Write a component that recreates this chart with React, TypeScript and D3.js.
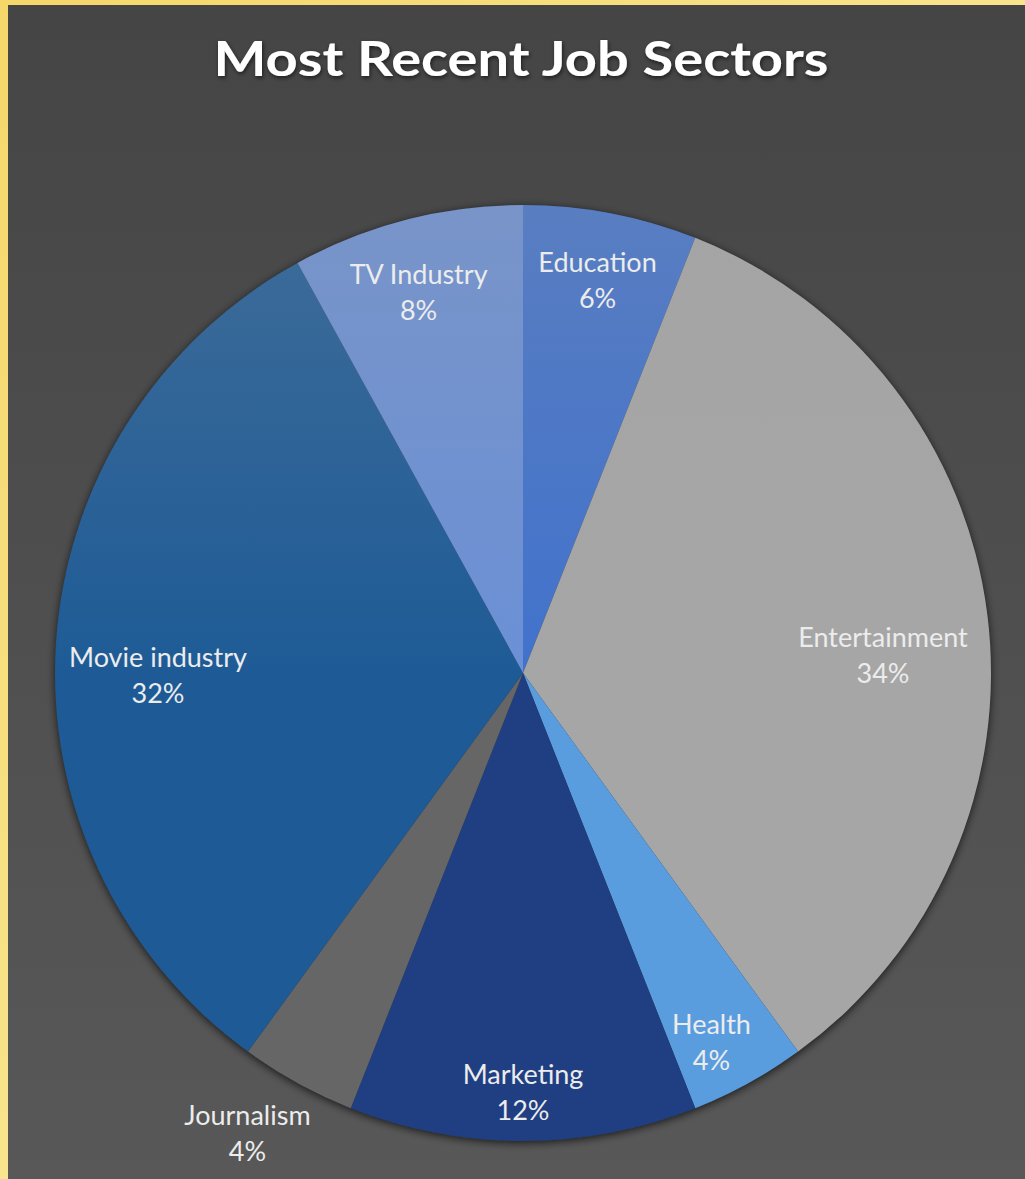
import React from "react";
import * as d3 from "d3";

const categories = ["Education", "Entertainment", "Health", "Marketing", "Journalism", "Movie industry", "TV Industry"];
const values = [6, 34, 4, 12, 4, 32, 8];
const sliceColors = ["#4172cc", "#a6a6a6", "#5a9ddf", "#1f3f82", "#666666", "#1e5b96", "#6b90d6"];
const labelRadius = [0.85, 0.77, 0.89, 0.9, 1.15, 0.78, 0.84];
const labelAngleShift = [0, 4.7, 1.9, 0, 2, -4.2, -1];

const W = 1025;
const H = 1179;
const CX = 523;
const CY = 673;
const R = 468;

export default function App() {
  const pie = d3.pie<number>().sort(null).value((d) => d)(values);
  const arc = d3.arc<d3.PieArcDatum<number>>().innerRadius(0).outerRadius(R);
  const total = d3.sum(values);
  const fmt = d3.format(".0%");

  return (
    <svg width={W} height={H} style={{ position: "absolute", left: 0, top: 0 }} xmlns="http://www.w3.org/2000/svg">
      <defs>
        <linearGradient id="frame" x1="0" y1="0" x2="1" y2="1">
          <stop offset="0" stopColor="#f5d76a" />
          <stop offset="0.5" stopColor="#f8e48c" />
          <stop offset="1" stopColor="#f0cc55" />
        </linearGradient>
        <linearGradient id="bg" x1="0" y1="0" x2="0" y2="1">
          <stop offset="0" stopColor="#454545" />
          <stop offset="1" stopColor="#585858" />
        </linearGradient>
        <linearGradient id="sheen" gradientUnits="userSpaceOnUse" x1="0" y1={-R} x2="0" y2={R}>
          <stop offset="0" stopColor="#a0a0a0" stopOpacity="0.25" />
          <stop offset="0.5" stopColor="#a0a0a0" stopOpacity="0" />
        </linearGradient>
        <filter id="pieShadow" x="-10%" y="-10%" width="120%" height="120%">
          <feDropShadow dx="0" dy="2" stdDeviation="4" floodColor="#000" floodOpacity="0.7" />
        </filter>
        <filter id="textShadow" x="-10%" y="-30%" width="120%" height="160%">
          <feDropShadow dx="1" dy="2" stdDeviation="2" floodColor="#000" floodOpacity="0.6" />
        </filter>
      </defs>
      <rect x={0} y={0} width={W} height={H} fill="url(#frame)" />
      <rect x={8} y={5} width={W - 8} height={H - 5} fill="url(#bg)" />
      <text
        x={521}
        y={76}
        textAnchor="middle"
        fontFamily="Lato, 'Open Sans', sans-serif"
        fontWeight="bold"
        fontSize={48}
        fill="#ffffff"
        filter="url(#textShadow)"
        textLength={615}
        lengthAdjust="spacingAndGlyphs"
      >
        Most Recent Job Sectors
      </text>
      <g transform={`translate(${CX},${CY})`}>
        <circle r={R} fill="#333" filter="url(#pieShadow)" />
        {pie.map((p, i) => (
          <path key={categories[i]} d={arc(p) || ""} fill={sliceColors[i]} />
        ))}
        <circle r={R} fill="url(#sheen)" />
        {pie.map((p, i) => {
          const a = (p.startAngle + p.endAngle) / 2 + (labelAngleShift[i] * Math.PI) / 180;
          const r = R * labelRadius[i];
          const x = r * Math.sin(a);
          const y = -r * Math.cos(a);
          return (
            <g key={"l" + categories[i]} fontFamily="Lato, 'Open Sans', sans-serif" fontSize={27} fill="#ececec" textAnchor="middle">
              <text x={x} y={y - 17} dominantBaseline="middle">{categories[i]}</text>
              <text x={x} y={y + 19} dominantBaseline="middle">{fmt(values[i] / total)}</text>
            </g>
          );
        })}
      </g>
    </svg>
  );
}
